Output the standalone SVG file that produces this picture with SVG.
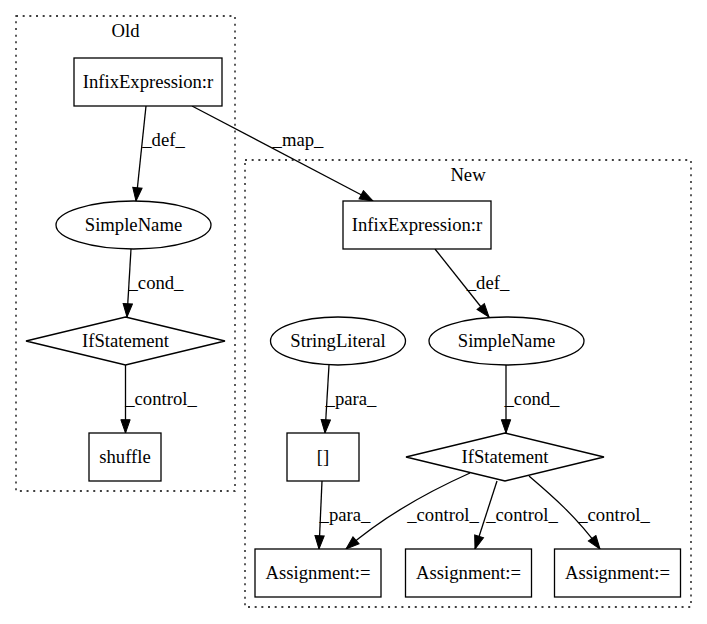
<svg xmlns="http://www.w3.org/2000/svg" width="707" height="624" viewBox="0 0 707 624">
<defs>
<marker id="arr" markerUnits="userSpaceOnUse" markerWidth="16" markerHeight="12" refX="13.3" refY="4.67" orient="auto" viewBox="-1 -1 16 12">
<path d="M0,0 L13.3,4.67 L0,9.33 z" fill="#000" stroke="#000" stroke-width="1"/>
</marker>
<style>
text{font-family:"Liberation Serif","Times New Roman",serif;font-size:18.67px;fill:#000;text-anchor:middle}
.cl{fill:none;stroke:#000;stroke-width:1.3;stroke-dasharray:2,4.67}
.n{fill:#fff;stroke:#000;stroke-width:1.3}
.e{fill:none;stroke:#000;stroke-width:1.3;marker-end:url(#arr)}
</style>
</defs>
<rect width="707" height="624" fill="#fff"/>
<g id="cluster_old">
<rect class="cl" x="16" y="16" width="219" height="475"/>
<text x="125.5" y="37">Old</text>
</g>
<g id="cluster_new">
<rect class="cl" x="245" y="160" width="446" height="447"/>
<text x="468" y="181">New</text>
</g>
<g id="edges">
<path class="e" d="M146,106 L136,201"/>
<path class="e" d="M192,106 L373,201"/>
<path class="e" d="M131,249 L127,317"/>
<path class="e" d="M125.5,365 L125.5,433"/>
<path class="e" d="M435,249 L489,317"/>
<path class="e" d="M329,365 L325,433"/>
<path class="e" d="M506,365 L506,433"/>
<path class="e" d="M322,481 L319,549"/>
<path class="e" d="M470,473 C432,490 385,515 346,549"/>
<path class="e" d="M497,481 L475,549"/>
<path class="e" d="M529,476 C550,494 575,515 600,549"/>
<text x="163.5" y="146">_def_</text>
<text x="298" y="146">_map_</text>
<text x="156" y="289">_cond_</text>
<text x="488" y="289">_def_</text>
<text x="161" y="405">_control_</text>
<text x="351" y="405">_para_</text>
<text x="532" y="405">_cond_</text>
<text x="345" y="521">_para_</text>
<text x="443" y="521">_control_</text>
<text x="522" y="521">_control_</text>
<text x="614" y="521">_control_</text>
</g>
<g id="old_infix">
<rect class="n" x="74" y="58" width="148" height="48"/>
<text x="148" y="88">InfixExpression:r</text>
</g>
<g id="old_simplename">
<ellipse class="n" cx="133.5" cy="225" rx="77.5" ry="24"/>
<text x="133.5" y="231">SimpleName</text>
</g>
<g id="old_if">
<polygon class="n" points="125.5,317 225,341 125.5,365 26,341"/>
<text x="125.5" y="347">IfStatement</text>
</g>
<g id="shuffle">
<rect class="n" x="89" y="433" width="72" height="48"/>
<text x="125" y="463">shuffle</text>
</g>
<g id="new_infix">
<rect class="n" x="343" y="201" width="148" height="48"/>
<text x="417" y="231">InfixExpression:r</text>
</g>
<g id="string_literal">
<ellipse class="n" cx="338" cy="341" rx="67.5" ry="24"/>
<text x="338" y="347">StringLiteral</text>
</g>
<g id="new_simplename">
<ellipse class="n" cx="506.5" cy="341" rx="77.5" ry="24"/>
<text x="506.5" y="347">SimpleName</text>
</g>
<g id="bracket">
<rect class="n" x="287" y="433" width="72" height="48"/>
<text x="323" y="463">[]</text>
</g>
<g id="new_if">
<polygon class="n" points="505,433 604,457 505,481 406,457"/>
<text x="505" y="463">IfStatement</text>
</g>
<g id="assign1">
<rect class="n" x="255" y="549" width="126" height="48"/>
<text x="318" y="579">Assignment:=</text>
</g>
<g id="assign2">
<rect class="n" x="405.5" y="549" width="126" height="48"/>
<text x="468.5" y="579">Assignment:=</text>
</g>
<g id="assign3">
<rect class="n" x="554.5" y="549" width="126" height="48"/>
<text x="617.5" y="579">Assignment:=</text>
</g>
</svg>
